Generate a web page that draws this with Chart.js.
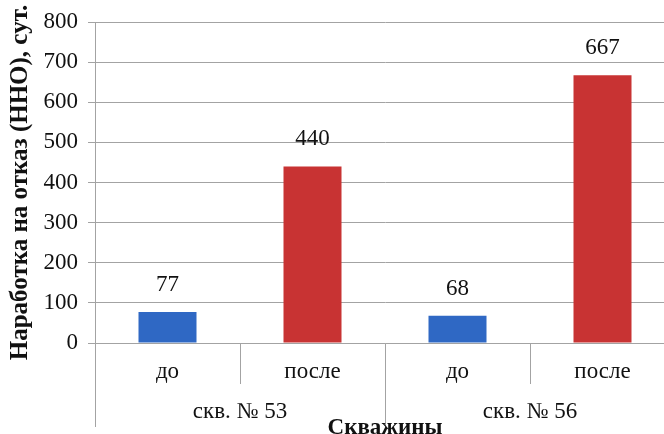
<!DOCTYPE html>
<html>
<head>
<meta charset="utf-8">
<script src="https://cdn.jsdelivr.net/npm/chart.js@4"></script>
<style>
  body { margin: 0; background: #fff; }
  #wrap { width: 664px; height: 434px; overflow: hidden; }
</style>
</head>
<body>
<div id="wrap"><canvas id="chart" width="675" height="434"></canvas></div>
<script>
const wells = ['скв. № 53', 'скв. № 56'];
const stages = ['до', 'после', 'до', 'после'];
const mtbf = [77, 440, 68, 667];
const yTicks = [0, 100, 200, 300, 400, 500, 600, 700, 800];

const serif = 'Liberation Serif';
const gridGray = '#a3a3a3';

// value labels above the bars
const barValues = {
    id: 'barValues',
    afterDatasetsDraw(chart) {
        const c = chart.ctx;
        c.save();
        c.font = '23px "' + serif + '"';
        c.fillStyle = '#111';
        c.textAlign = 'center';
        c.textBaseline = 'middle';
        chart.getDatasetMeta(0).data.forEach((bar, i) => {
            c.fillText(String(mtbf[i]), bar.x, bar.y - 27);
        });
        c.restore();
    }
};

new Chart(document.getElementById('chart'), {
    type: 'bar',
    plugins: [barValues],
    data: {
        labels: stages,
        datasets: [{
            data: mtbf,
            backgroundColor: ctx => stages[ctx.dataIndex] === 'до' ? '#2f68c4' : '#c83333',
            barPercentage: 0.4,
            categoryPercentage: 1
        }]
    },
    options: {
        responsive: false,
        animation: false,
        devicePixelRatio: 1,
        layout: { padding: { top: 22, left: 0, right: 0, bottom: 0 } },
        plugins: { legend: { display: false }, tooltip: { enabled: false } },
        scales: {
            y: {
                min: 0,
                max: 800,
                afterBuildTicks: s => { s.ticks = yTicks.map(v => ({ value: v })); },
                afterFit: s => { s.width = 95; },
                border: { color: gridGray },
                grid: { color: gridGray, tickLength: 7 },
                ticks: { padding: 10, color: '#111', font: { family: serif, size: 23, lineHeight: 1 } },
                title: {
                    display: true,
                    text: 'Наработка на отказ (ННО), сут.',
                    color: '#111',
                    padding: { top: 8, bottom: 0 },
                    font: { family: serif, size: 25, weight: 'bold', lineHeight: 1 }
                }
            },
            // lower level: до / после (labels are clipped to the axis box, so it spans the short ticks)
            x: {
                afterFit: s => { s.height = 41; },
                border: { color: gridGray },
                grid: { offset: true, drawOnChartArea: false, color: gridGray, tickLength: 41 },
                ticks: { padding: -23.5, color: '#111', font: { family: serif, size: 23, lineHeight: 1 } }
            },
            // upper level: wells, long separators continue the group boundaries
            x2: {
                type: 'category',
                position: 'bottom',
                weight: 1,
                labels: wells,
                afterFit: s => { s.height = 50; },
                border: { display: false },
                grid: { offset: true, drawOnChartArea: false, color: gridGray, tickLength: 43 },
                ticks: { padding: -26.5, color: '#111', font: { family: serif, size: 23, lineHeight: 1 } },
                title: {
                    display: true,
                    text: 'Скважины',
                    color: '#111',
                    padding: { top: 0, bottom: -5.5 },
                    font: { family: serif, size: 23, weight: 'bold', lineHeight: 1 }
                }
            }
        }
    }
});
</script>
</body>
</html>
